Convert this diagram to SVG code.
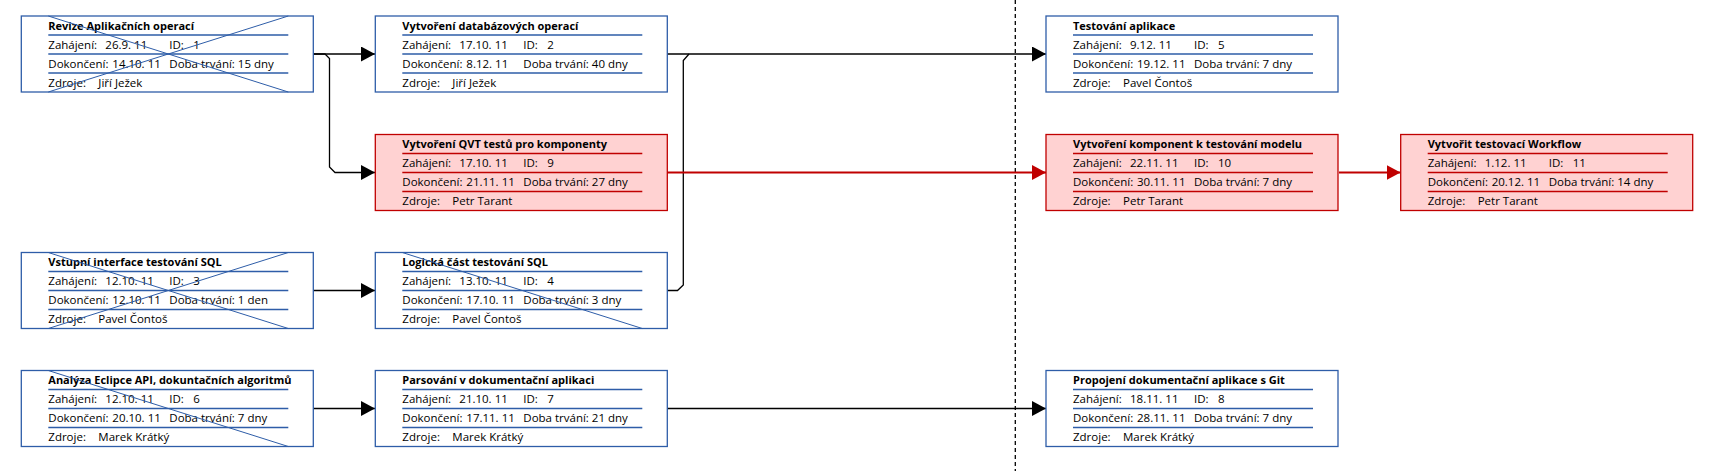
<svg xmlns="http://www.w3.org/2000/svg" width="1727" height="471" viewBox="0 0 1727 471">
<style>
text{font-family:"Open Sans","Liberation Sans",sans-serif;font-size:11.5px;fill:#000}
text.t{font-weight:bold;font-size:11px}
.box{fill:#fff;stroke:#2E5DA8;stroke-width:1.3}
.div{stroke:#2E5DA8;stroke-width:1.3}
.rbox{fill:#FFD2D2;stroke:#C00000;stroke-width:1.3}
.rdiv{stroke:#C00000;stroke-width:1.3}
.x{stroke:#2E5DA8;stroke-width:1;fill:none}
.c{fill:none;stroke:#000;stroke-width:1.3}
.rc{fill:none;stroke:#C00000;stroke-width:2.2}
</style>
<defs>
<marker id="ab" markerUnits="userSpaceOnUse" markerWidth="14" markerHeight="15" refX="14" refY="7.5" orient="auto"><path d="M0,0 L14,7.5 L0,15 z" fill="#000"/></marker>
<marker id="ar" markerUnits="userSpaceOnUse" markerWidth="14" markerHeight="15" refX="14" refY="7.5" orient="auto"><path d="M0,0 L14,7.5 L0,15 z" fill="#C00000"/></marker>
</defs>

<line x1="1015.3" y1="0" x2="1015.3" y2="471" stroke="#000" stroke-width="1.3" stroke-dasharray="4,3"/>

<g id="connectors">
<path class="c" d="M313,54 H375" marker-end="url(#ab)"/>
<path class="c" d="M313,54 H325 L329.5,58.5 V167 L335,172.5 H375" marker-end="url(#ab)"/>
<path class="c" d="M667,54 H1046" marker-end="url(#ab)"/>
<path class="c" d="M667,290.5 H677.5 L683.3,285 V60.5 L689,54"/>
<path class="rc" d="M667,172.5 H1046" marker-end="url(#ar)"/>
<path class="rc" d="M1339,172.5 H1400.5" marker-end="url(#ar)"/>
<path class="c" d="M313,290.5 H375" marker-end="url(#ab)"/>
<path class="c" d="M313,408.5 H375" marker-end="url(#ab)"/>
<path class="c" d="M667,408.5 H1046" marker-end="url(#ab)"/>
</g>

<g id="n1" transform="translate(21.3,16)">
<rect class="box" width="292" height="76"/>
<path class="div" d="M27,19H267M27,38H267M27,57H267"/>
<text class="t" x="27" y="13.5">Revize Aplikačních operací</text>
<text x="27" y="32.5">Zahájení:</text><text x="84" y="32.5">26.9. 11</text><text x="148" y="32.5">ID:</text><text x="172" y="32.5">1</text>
<text x="27" y="51.5">Dokončení:</text><text x="91" y="51.5">14.10. 11</text><text x="148" y="51.5">Doba trvání: 15 dny</text>
<text x="27" y="70.5">Zdroje:</text><text x="77" y="70.5">Jiří Ježek</text>
<path class="x" d="M27,0 L267,76 M27,76 L267,0"/>
</g>

<g id="n2" transform="translate(375.3,16)">
<rect class="box" width="292" height="76"/>
<path class="div" d="M27,19H267M27,38H267M27,57H267"/>
<text class="t" x="27" y="13.5">Vytvoření databázových operací</text>
<text x="27" y="32.5">Zahájení:</text><text x="84" y="32.5">17.10. 11</text><text x="148" y="32.5">ID:</text><text x="172" y="32.5">2</text>
<text x="27" y="51.5">Dokončení:</text><text x="91" y="51.5">8.12. 11</text><text x="148" y="51.5">Doba trvání: 40 dny</text>
<text x="27" y="70.5">Zdroje:</text><text x="77" y="70.5">Jiří Ježek</text>
</g>

<g id="n5" transform="translate(1046,16)">
<rect class="box" width="292" height="76"/>
<path class="div" d="M27,19H267M27,38H267M27,57H267"/>
<text class="t" x="27" y="13.5">Testování aplikace</text>
<text x="27" y="32.5">Zahájení:</text><text x="84" y="32.5">9.12. 11</text><text x="148" y="32.5">ID:</text><text x="172" y="32.5">5</text>
<text x="27" y="51.5">Dokončení:</text><text x="91" y="51.5">19.12. 11</text><text x="148" y="51.5">Doba trvání: 7 dny</text>
<text x="27" y="70.5">Zdroje:</text><text x="77" y="70.5">Pavel Čontoš</text>
</g>

<g id="n9" transform="translate(375.3,134.5)">
<rect class="rbox" width="292" height="76"/>
<path class="rdiv" d="M27,19H267M27,38H267M27,57H267"/>
<text class="t" x="27" y="13.5">Vytvoření QVT testů pro komponenty</text>
<text x="27" y="32.5">Zahájení:</text><text x="84" y="32.5">17.10. 11</text><text x="148" y="32.5">ID:</text><text x="172" y="32.5">9</text>
<text x="27" y="51.5">Dokončení:</text><text x="91" y="51.5">21.11. 11</text><text x="148" y="51.5">Doba trvání: 27 dny</text>
<text x="27" y="70.5">Zdroje:</text><text x="77" y="70.5">Petr Tarant</text>
</g>

<g id="n10" transform="translate(1046,134.5)">
<rect class="rbox" width="292" height="76"/>
<path class="rdiv" d="M27,19H267M27,38H267M27,57H267"/>
<text class="t" x="27" y="13.5">Vytvoření komponent k testování modelu</text>
<text x="27" y="32.5">Zahájení:</text><text x="84" y="32.5">22.11. 11</text><text x="148" y="32.5">ID:</text><text x="172" y="32.5">10</text>
<text x="27" y="51.5">Dokončení:</text><text x="91" y="51.5">30.11. 11</text><text x="148" y="51.5">Doba trvání: 7 dny</text>
<text x="27" y="70.5">Zdroje:</text><text x="77" y="70.5">Petr Tarant</text>
</g>

<g id="n11" transform="translate(1400.7,134.5)">
<rect class="rbox" width="292" height="76"/>
<path class="rdiv" d="M27,19H267M27,38H267M27,57H267"/>
<text class="t" x="27" y="13.5">Vytvořit testovací Workflow</text>
<text x="27" y="32.5">Zahájení:</text><text x="84" y="32.5">1.12. 11</text><text x="148" y="32.5">ID:</text><text x="172" y="32.5">11</text>
<text x="27" y="51.5">Dokončení:</text><text x="91" y="51.5">20.12. 11</text><text x="148" y="51.5">Doba trvání: 14 dny</text>
<text x="27" y="70.5">Zdroje:</text><text x="77" y="70.5">Petr Tarant</text>
</g>

<g id="n3" transform="translate(21.3,252.5)">
<rect class="box" width="292" height="76"/>
<path class="div" d="M27,19H267M27,38H267M27,57H267"/>
<text class="t" x="27" y="13.5">Vstupní interface testování SQL</text>
<text x="27" y="32.5">Zahájení:</text><text x="84" y="32.5">12.10. 11</text><text x="148" y="32.5">ID:</text><text x="172" y="32.5">3</text>
<text x="27" y="51.5">Dokončení:</text><text x="91" y="51.5">12.10. 11</text><text x="148" y="51.5">Doba trvání: 1 den</text>
<text x="27" y="70.5">Zdroje:</text><text x="77" y="70.5">Pavel Čontoš</text>
<path class="x" d="M27,0 L267,76 M27,76 L267,0"/>
</g>

<g id="n4" transform="translate(375.3,252.5)">
<rect class="box" width="292" height="76"/>
<path class="div" d="M27,19H267M27,38H267M27,57H267"/>
<text class="t" x="27" y="13.5">Logická část testování SQL</text>
<text x="27" y="32.5">Zahájení:</text><text x="84" y="32.5">13.10. 11</text><text x="148" y="32.5">ID:</text><text x="172" y="32.5">4</text>
<text x="27" y="51.5">Dokončení:</text><text x="91" y="51.5">17.10. 11</text><text x="148" y="51.5">Doba trvání: 3 dny</text>
<text x="27" y="70.5">Zdroje:</text><text x="77" y="70.5">Pavel Čontoš</text>
<path class="x" d="M27,0 L267,76"/>
</g>

<g id="n6" transform="translate(21.3,370.5)">
<rect class="box" width="292" height="76"/>
<path class="div" d="M27,19H267M27,38H267M27,57H267"/>
<text class="t" x="27" y="13.5">Analýza Eclipce API, dokuntačních algoritmů</text>
<text x="27" y="32.5">Zahájení:</text><text x="84" y="32.5">12.10. 11</text><text x="148" y="32.5">ID:</text><text x="172" y="32.5">6</text>
<text x="27" y="51.5">Dokončení:</text><text x="91" y="51.5">20.10. 11</text><text x="148" y="51.5">Doba trvání: 7 dny</text>
<text x="27" y="70.5">Zdroje:</text><text x="77" y="70.5">Marek Krátký</text>
<path class="x" d="M27,0 L267,76"/>
</g>

<g id="n7" transform="translate(375.3,370.5)">
<rect class="box" width="292" height="76"/>
<path class="div" d="M27,19H267M27,38H267M27,57H267"/>
<text class="t" x="27" y="13.5">Parsování v dokumentační aplikaci</text>
<text x="27" y="32.5">Zahájení:</text><text x="84" y="32.5">21.10. 11</text><text x="148" y="32.5">ID:</text><text x="172" y="32.5">7</text>
<text x="27" y="51.5">Dokončení:</text><text x="91" y="51.5">17.11. 11</text><text x="148" y="51.5">Doba trvání: 21 dny</text>
<text x="27" y="70.5">Zdroje:</text><text x="77" y="70.5">Marek Krátký</text>
</g>

<g id="n8" transform="translate(1046,370.5)">
<rect class="box" width="292" height="76"/>
<path class="div" d="M27,19H267M27,38H267M27,57H267"/>
<text class="t" x="27" y="13.5">Propojení dokumentační aplikace s Git</text>
<text x="27" y="32.5">Zahájení:</text><text x="84" y="32.5">18.11. 11</text><text x="148" y="32.5">ID:</text><text x="172" y="32.5">8</text>
<text x="27" y="51.5">Dokončení:</text><text x="91" y="51.5">28.11. 11</text><text x="148" y="51.5">Doba trvání: 7 dny</text>
<text x="27" y="70.5">Zdroje:</text><text x="77" y="70.5">Marek Krátký</text>
</g>
</svg>
